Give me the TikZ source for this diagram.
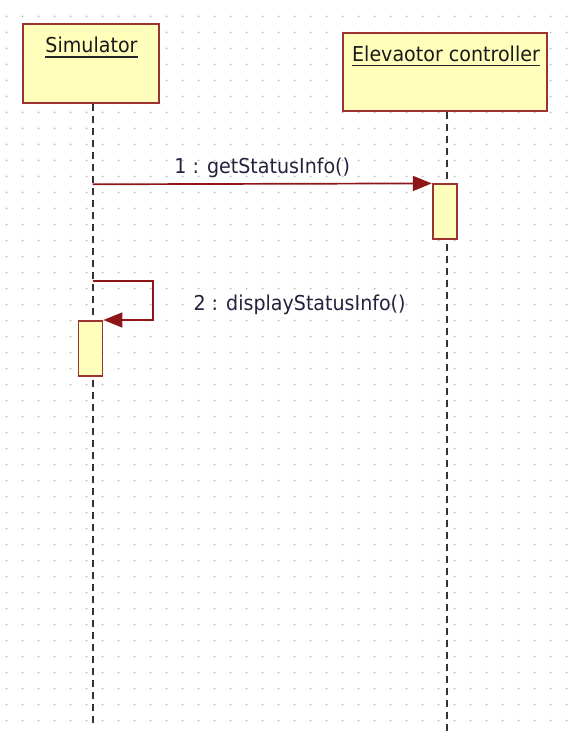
\documentclass[tikz,border=0pt]{standalone}
\usepackage{fontspec}
\setmainfont{DejaVu Sans}
\newfontfamily\umlfont[FakeStretch=0.93]{DejaVu Sans}
\usepackage{tikz}
\usetikzlibrary{positioning,calc,arrows.meta}
\definecolor{boxred}{HTML}{9E3232}
\definecolor{msgred}{HTML}{8E1616}
\definecolor{boxfill}{HTML}{FFFFBB}
\definecolor{lbltext}{HTML}{22223E}

\begin{document}
\begin{tikzpicture}[x=1pt,y=-1pt,
		font=\umlfont\fontsize{20.5}{24}\selectfont,
		objbox/.style={draw=boxred,fill=boxfill,line width=2pt,inner sep=0pt},
		actbox/.style={draw=boxred,fill=boxfill,line width=1.8pt,inner sep=0pt,minimum width=24pt,minimum height=55pt},
		title/.style={inner sep=0pt,anchor=base,text=black!90},
		lifeline/.style={line width=2pt,dash pattern=on 7pt off 5pt,black!80},
		msg/.style={draw=msgred,line width=1.7pt,-{Triangle[length=19pt,width=15pt]}},
		lbl/.style={inner sep=0pt,text=lbltext},
	]
		\useasboundingbox (0,0) rectangle (569,735);
		% dotted background
		\foreach \x in {0,...,35}
			\foreach \y in {0,...,44}
				\fill[black!28] (6.5+16*\x,16.5+16*\y) circle (1pt);

		% objects
		\node[objbox,minimum width=136pt,minimum height=79pt] (sim) at (91,63.5) {};
		\node[objbox,minimum width=204pt,minimum height=78pt] (ctrl) at (445,71.7) {};
		\node[title] (simT) at (91.5,53) {Simulator};
		\node[title] (ctrlT) at (446,61.5) {Elevaotor controller};
		\draw[line width=1.6pt,black!85]
			([yshift=-4pt]simT.base west) -- ([yshift=-4pt]simT.base east)
			([yshift=-4pt]ctrlT.base west) -- ([yshift=-4pt]ctrlT.base east);

		% lifelines
		\coordinate (simEnd) at (92.7,723);
		\coordinate (ctrlEnd) at (446.7,732);
		\draw[lifeline] (sim.south -| simEnd) -- (simEnd);
		\draw[lifeline] (ctrl.south -| ctrlEnd) -- (ctrlEnd);

		% activations
		\node[actbox] (act1) at (444.7,211.8) {};
		\node[actbox] (act2) at (90.5,348.4) {};

		% messages
		\coordinate (m1) at (92.7,184.3);
		\coordinate (m2) at (92.7,280.7);
		\path
			(m1) edge[msg] node[lbl,anchor=base,yshift=10pt] (l1) {1 : getStatusInfo()} (act1.north west);
		\draw[msg] (m2) -- ++(60.6,0) coordinate (s2) |- (act2.north east);
		\node[lbl,anchor=base west] (l2) at ([xshift=40pt,yshift=-29.3pt]s2) {2 : displayStatusInfo()};
	\end{tikzpicture}
\end{document}
